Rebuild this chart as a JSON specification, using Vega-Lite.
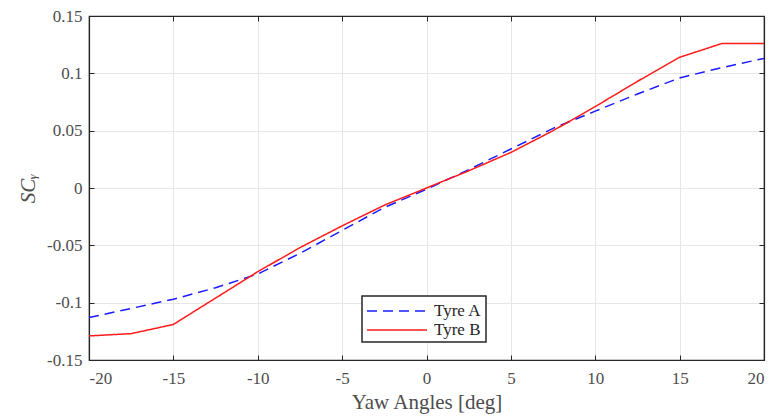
{
  "$schema": "https://vega.github.io/schema/vega-lite/v6.json",
  "width": 675,
  "height": 344,
  "autosize": {"type": "none"},
  "padding": {"left": 89, "top": 16, "right": 10, "bottom": 58},
  "background": "white",
  "config": {
    "font": "Liberation Serif",
    "view": {"stroke": "#262626", "strokeWidth": 1.2},
    "axis": {
      "domainColor": "#262626",
      "domainWidth": 1.2,
      "tickColor": "#262626",
      "tickSize": -5,
      "gridColor": "#e6e6e6",
      "gridWidth": 1,
      "labelFont": "Liberation Serif",
      "labelFontSize": 17,
      "labelColor": "#4d4d4d",
      "titleFont": "Liberation Serif",
      "titleFontSize": 21,
      "titleFontWeight": "normal",
      "titleColor": "#4d4d4d"
    },
    "legend": {
      "orient": "none",
      "legendX": 273,
      "legendY": 280,
      "strokeColor": "#262626",
      "strokeWidth": 1.5,
      "fillColor": "white",
      "padding": 4,
      "labelFont": "Liberation Serif",
      "labelFontSize": 17,
      "labelColor": "#262626",
      "labelOffset": 46,
      "symbolType": "M-1,0H5",
      "symbolSize": 400,
      "symbolStrokeWidth": 1.5,
      "rowPadding": 0
    }
  },
  "data": {
    "values": [
      {"yaw": -20, "sc": -0.113, "tyre": "Tyre A"},
      {"yaw": -17.5, "sc": -0.105, "tyre": "Tyre A"},
      {"yaw": -15, "sc": -0.097, "tyre": "Tyre A"},
      {"yaw": -12.5, "sc": -0.087, "tyre": "Tyre A"},
      {"yaw": -10, "sc": -0.075, "tyre": "Tyre A"},
      {"yaw": -7.5, "sc": -0.057, "tyre": "Tyre A"},
      {"yaw": -5, "sc": -0.037, "tyre": "Tyre A"},
      {"yaw": -2.5, "sc": -0.017, "tyre": "Tyre A"},
      {"yaw": 0, "sc": -0.001, "tyre": "Tyre A"},
      {"yaw": 2.5, "sc": 0.016, "tyre": "Tyre A"},
      {"yaw": 5, "sc": 0.034, "tyre": "Tyre A"},
      {"yaw": 7.5, "sc": 0.052, "tyre": "Tyre A"},
      {"yaw": 10, "sc": 0.067, "tyre": "Tyre A"},
      {"yaw": 12.5, "sc": 0.082, "tyre": "Tyre A"},
      {"yaw": 15, "sc": 0.096, "tyre": "Tyre A"},
      {"yaw": 17.5, "sc": 0.105, "tyre": "Tyre A"},
      {"yaw": 20, "sc": 0.113, "tyre": "Tyre A"},
      {"yaw": -20, "sc": -0.129, "tyre": "Tyre B"},
      {"yaw": -17.5, "sc": -0.127, "tyre": "Tyre B"},
      {"yaw": -15, "sc": -0.119, "tyre": "Tyre B"},
      {"yaw": -12.5, "sc": -0.096, "tyre": "Tyre B"},
      {"yaw": -10, "sc": -0.073, "tyre": "Tyre B"},
      {"yaw": -7.5, "sc": -0.052, "tyre": "Tyre B"},
      {"yaw": -5, "sc": -0.033, "tyre": "Tyre B"},
      {"yaw": -2.5, "sc": -0.015, "tyre": "Tyre B"},
      {"yaw": 0, "sc": 0.0, "tyre": "Tyre B"},
      {"yaw": 2.5, "sc": 0.015, "tyre": "Tyre B"},
      {"yaw": 5, "sc": 0.031, "tyre": "Tyre B"},
      {"yaw": 7.5, "sc": 0.05, "tyre": "Tyre B"},
      {"yaw": 10, "sc": 0.071, "tyre": "Tyre B"},
      {"yaw": 12.5, "sc": 0.093, "tyre": "Tyre B"},
      {"yaw": 15, "sc": 0.114, "tyre": "Tyre B"},
      {"yaw": 17.5, "sc": 0.126, "tyre": "Tyre B"},
      {"yaw": 20, "sc": 0.126, "tyre": "Tyre B"}
    ]
  },
  "layer": [
    {
      "mark": {"type": "line", "strokeWidth": 1.5},
      "encoding": {
        "x": {
          "field": "yaw", "type": "quantitative",
          "scale": {"domain": [-20, 20], "nice": false, "zero": false},
          "axis": {"values": [-20, -15, -10, -5, 0, 5, 10, 15, 20], "labelExpr": "'' + datum.value", "title": "Yaw Angles [deg]", "labelPadding": 15, "titlePadding": 5}
        },
        "y": {
          "field": "sc", "type": "quantitative",
          "scale": {"domain": [-0.15, 0.15], "nice": false, "zero": false},
          "axis": {"values": [-0.15, -0.1, -0.05, 0, 0.05, 0.1, 0.15], "labelExpr": "'' + datum.value", "title": "SCᵧ", "titleFontStyle": "italic", "titlePadding": 8, "labelPadding": 12}
        },
        "color": {
          "field": "tyre", "type": "nominal",
          "scale": {"domain": ["Tyre A", "Tyre B"], "range": ["#1a1aff", "#ff1a1a"]},
          "legend": {"title": null}
        },
        "strokeDash": {
          "field": "tyre", "type": "nominal",
          "scale": {"domain": ["Tyre A", "Tyre B"], "range": [[10, 6], [1, 0]]},
          "legend": {"title": null}
        }
      }
    },
    {
      "mark": {"type": "line", "opacity": 0},
      "encoding": {
        "x": {"field": "yaw", "type": "quantitative", "axis": {"orient": "top", "labels": false, "grid": false, "title": null, "values": [-20, -15, -10, -5, 0, 5, 10, 15, 20]}},
        "y": {"field": "sc", "type": "quantitative", "axis": {"orient": "right", "labels": false, "grid": false, "title": null, "values": [-0.15, -0.1, -0.05, 0, 0.05, 0.1, 0.15]}},
        "detail": {"field": "tyre"}
      }
    }
  ],
  "resolve": {"axis": {"x": "independent", "y": "independent"}}
}
